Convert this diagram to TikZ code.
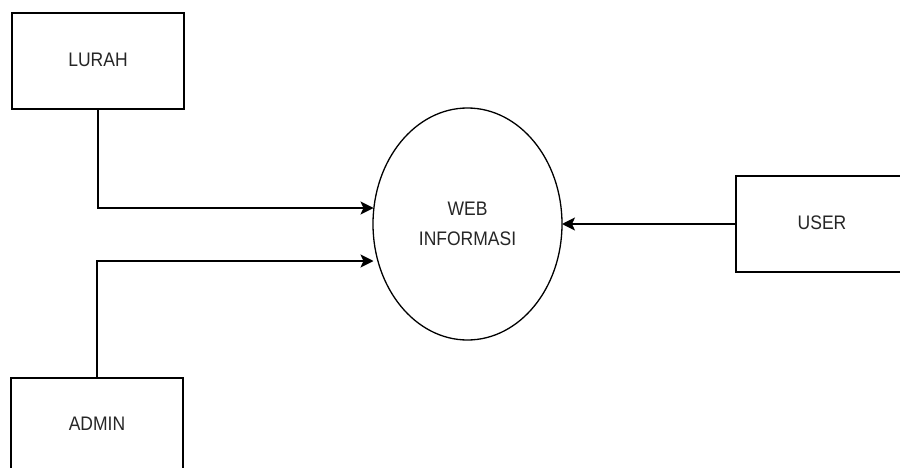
\documentclass[tikz,border=0pt]{standalone}
\usepackage{fontspec}
\setmainfont{Liberation Sans}
\usetikzlibrary{arrows.meta,shapes.geometric}
\begin{document}
\begin{tikzpicture}[x=1pt,y=-1pt,
  ent/.style={draw=black,line width=1.5pt,minimum width=172pt,minimum height=96pt,inner sep=0pt,outer sep=0pt,anchor=north west},
  lbl/.style={font=\fontsize{17.5}{27}\selectfont,text=black!85,yscale=1.12,align=center},
  flow/.style={draw=black,line width=1.5pt,-{Stealth[length=13pt,width=13pt,inset=3pt]}}]
\useasboundingbox (0,0) rectangle (900,468);
\fill[white] (0,0) rectangle (900,468);
\node[ent] (lurah) at (12,13) {};
\node[lbl] at (98,60) {LURAH};
\node[ent] (admin) at (11,378) {};
\node[lbl] at (97,424) {ADMIN};
\node[ent] (user) at (736,176) {};
\node[lbl] at (822,223) {USER};
\node[draw=black,line width=1.3pt,ellipse,minimum width=189pt,minimum height=232pt,inner sep=0pt,outer sep=0pt] (web) at (467.5,224) {};
\node[lbl] at (467.5,223.5) {WEB\\INFORMASI};
\coordinate (a1) at (373.5,208);
\coordinate (a2) at (373.5,261);
\draw[flow] (lurah.south) |- (a1);
\draw[flow] (admin.north) |- (a2);
\draw[flow] (user.west) -- (user.west -| web.east);
\end{tikzpicture}
\end{document}
